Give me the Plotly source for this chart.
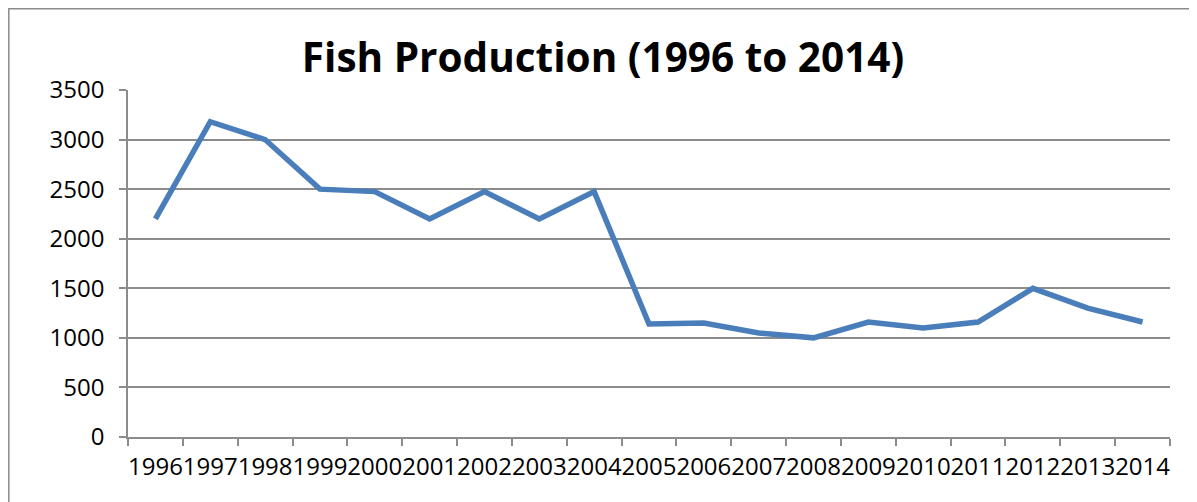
import plotly.graph_objects as go

years = ["1996", "1997", "1998", "1999", "2000", "2001", "2002", "2003", "2004", "2005",
         "2006", "2007", "2008", "2009", "2010", "2011", "2012", "2013", "2014"]
production = [2200, 3180, 3000, 2500, 2475, 2200, 2475, 2200, 2475, 1140,
              1150, 1050, 1000, 1160, 1100, 1160, 1500, 1300, 1160]
title_text = "Fish Production (1996 to 2014)"
y_ticks = [0, 500, 1000, 1500, 2000, 2500, 3000, 3500]

# page body has an 8px margin; margins compensate so the plot lands in place
L, T, PW, PH = 120, 82, 1042, 347

fig = go.Figure()
fig.add_trace(go.Scatter(
    x=years, y=production, mode="lines",
    line=dict(color="#4a7ebb", width=5.5),
    showlegend=False,
))

fig.update_layout(
    width=1197, height=502,
    margin=dict(l=L, r=1197 - L - PW, t=T, b=502 - T - PH, autoexpand=False),
    paper_bgcolor="white", plot_bgcolor="white",
    font=dict(family="Open Sans", color="black", size=24),
    title=dict(text="<b>" + title_text + "</b>", x=595 / 1197, xanchor="center",
               y=0.901, yanchor="middle",
               font=dict(family="Open Sans", size=40.5, color="black")),
)
fig.update_xaxes(
    type="category", tickson="boundaries", ticks="outside", ticklen=7,
    tickcolor="#8c8c8c", tickwidth=1.5,
    showline=True, linecolor="#8c8c8c", linewidth=1.5,
    showgrid=False, tickangle=0, ticklabelstandoff=7, automargin=False,
    tickfont=dict(size=24, family="Open Sans"),
    range=[-0.5, 18.5],
)
fig.update_yaxes(
    range=[0, 3500], tickvals=y_ticks, ticks="outside", ticklen=7,
    tickcolor="#8c8c8c", tickwidth=1.5,
    showline=True, linecolor="#8c8c8c", linewidth=1.5,
    showgrid=True, gridcolor="#8c8c8c", gridwidth=1.5,
    zeroline=False, ticklabelstandoff=10, automargin=False,
    tickfont=dict(size=24, family="Open Sans"),
)
fig.add_shape(type="rect", xref="paper", yref="paper",
              x0=(0.8 - L) / PW, x1=1.3, y0=-0.5, y1=(PH + T - 0.8) / PH,
              line=dict(color="#8c8c8c", width=1.5), fillcolor="rgba(0,0,0,0)",
              layer="below")

fig.write_html("out.html")
